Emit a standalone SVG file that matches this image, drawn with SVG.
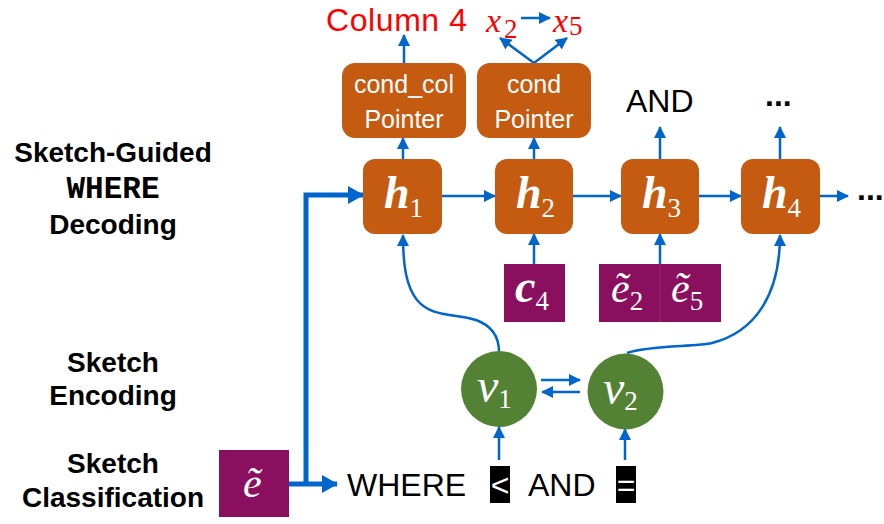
<svg xmlns="http://www.w3.org/2000/svg" width="884" height="524" viewBox="0 0 884 524">
<style>
.lbl{font-family:"Liberation Sans",Arial,sans-serif;font-weight:bold;font-size:28px;fill:#000;text-anchor:middle}
.mono{font-family:"Liberation Mono","Courier New",monospace;font-weight:bold;font-size:31px;fill:#000;text-anchor:middle}
.hb{fill:#C55A11}
.pb{fill:#8A0F5E}
.gc{fill:#548235}
.tk{fill:#000}
.ptr{font-family:"Liberation Sans",Arial,sans-serif;font-size:25px;fill:#fff;text-anchor:middle}
.hv{font-family:"Liberation Serif","Times New Roman",serif;font-style:italic;font-weight:bold;font-size:46px;fill:#fff}
.mv{font-family:"Liberation Serif","Times New Roman",serif;font-style:italic;font-size:48px;fill:#fff}
.ev{font-family:"Liberation Serif","Times New Roman",serif;font-style:italic;font-size:42px;fill:#fff}
.sub{font-family:"Liberation Serif","Times New Roman",serif;font-style:normal;font-weight:normal;font-size:27px}
.word{font-family:"Liberation Sans",Arial,sans-serif;font-size:32px;fill:#000}
.red{font-family:"Liberation Sans",Arial,sans-serif;font-size:32px;fill:#FF0000}
.rx{font-family:"Liberation Serif","Times New Roman",serif;font-style:italic;font-size:34px;fill:#FF0000}
.ln{fill:none;stroke:#0066CC;stroke-width:2.5;marker-end:url(#a)}
.thick{fill:none;stroke:#0066CC;stroke-width:5;marker-end:url(#b)}
</style>
<defs>
<marker id="a" markerUnits="userSpaceOnUse" markerWidth="12" markerHeight="12" refX="11" refY="6" orient="auto"><path d="M0,0 L12,6 L0,12 z" fill="#0066CC"/></marker>
<marker id="b" markerUnits="userSpaceOnUse" markerWidth="16" markerHeight="18" refX="15" refY="9" orient="auto"><path d="M0,0 L16,9 L0,18 z" fill="#0066CC"/></marker>
</defs>

<g id="labels">
<text class="lbl" x="113" y="162">Sketch-Guided</text>
<text class="mono" x="113" y="198">WHERE</text>
<text class="lbl" x="113" y="234">Decoding</text>
<text class="lbl" x="113" y="372">Sketch</text>
<text class="lbl" x="113" y="405">Encoding</text>
<text class="lbl" x="113" y="473">Sketch</text>
<text class="lbl" x="113" y="507">Classification</text>
</g>

<g id="connectors">
<path class="thick" d="M289,484 L337,484"/>
<path class="thick" d="M306,484 L306,195 L363,195"/>
<line class="ln" x1="442" y1="196" x2="495" y2="196"/>
<line class="ln" x1="573" y1="196" x2="621" y2="196"/>
<line class="ln" x1="699" y1="196" x2="741" y2="196"/>
<line class="ln" x1="820" y1="196" x2="848" y2="196"/>
<line class="ln" x1="403" y1="159" x2="403" y2="138"/>
<line class="ln" x1="534" y1="159" x2="534" y2="138"/>
<line class="ln" x1="404" y1="63" x2="404" y2="35"/>
<line class="ln" x1="534" y1="63" x2="500" y2="38"/>
<line class="ln" x1="534" y1="63" x2="567" y2="38"/>
<line class="ln" x1="521" y1="18" x2="550" y2="18"/>
<line class="ln" x1="660" y1="159" x2="660" y2="127"/>
<line class="ln" x1="780" y1="159" x2="780" y2="127"/>
<line class="ln" x1="534" y1="264" x2="534" y2="234"/>
<line class="ln" x1="660" y1="264" x2="660" y2="234"/>
<path class="ln" d="M499,352 C499,334 490,325 476,320 C455,313 432,318 417,300 C406,286 403,265 403,235"/>
<path class="ln" d="M627,353 C650,345 695,347 712,343 C755,332 780,295 780,235"/>
<line class="ln" x1="541" y1="380" x2="580" y2="380"/>
<line class="ln" x1="580" y1="392" x2="542" y2="392"/>
<line class="ln" x1="499" y1="460" x2="499" y2="427"/>
<line class="ln" x1="625" y1="460" x2="625" y2="429"/>
</g>

<g id="out-column">
<text class="red" x="326" y="31" textLength="141">Column 4</text>
</g>
<g id="out-x">
<text class="rx" x="486" y="32">x<tspan class="sub" dx="3" dy="6" font-size="25">2</tspan></text>
<text class="rx" x="553" y="32">x<tspan class="sub" dx="1" dy="3" font-size="25">5</tspan></text>
</g>
<g id="out-and"><text class="word" x="626" y="112">AND</text></g>
<g id="out-dots"><text class="word" x="765" y="106" font-weight="bold">...</text></g>
<g id="tail-dots"><text class="word" x="857" y="200" font-weight="bold">...</text></g>

<g id="ptr-col">
<rect x="342" y="63" width="124" height="75" rx="13" class="hb"/>
<text class="ptr" x="404" y="93">cond_col</text>
<text class="ptr" x="404" y="128">Pointer</text>
</g>
<g id="ptr-cond">
<rect x="477" y="63" width="114" height="75" rx="13" class="hb"/>
<text class="ptr" x="534" y="93">cond</text>
<text class="ptr" x="534" y="128">Pointer</text>
</g>

<g id="h1">
<rect x="363" y="159" width="79" height="75" rx="12" class="hb"/>
<text class="hv" x="384" y="208">h<tspan class="sub" dy="9">1</tspan></text>
</g>
<g id="h2">
<rect x="495" y="159" width="78" height="75" rx="12" class="hb"/>
<text class="hv" x="516" y="208">h<tspan class="sub" dy="9">2</tspan></text>
</g>
<g id="h3">
<rect x="621" y="159" width="78" height="75" rx="12" class="hb"/>
<text class="hv" x="642" y="208">h<tspan class="sub" dy="9">3</tspan></text>
</g>
<g id="h4">
<rect x="741" y="159" width="79" height="75" rx="12" class="hb"/>
<text class="hv" x="762" y="208">h<tspan class="sub" dy="9">4</tspan></text>
</g>

<g id="c4">
<rect x="504" y="264" width="61" height="58" class="pb"/>
<text class="hv" x="515" y="302">c<tspan class="sub" dy="8">4</tspan></text>
</g>
<g id="e25">
<rect x="599" y="264" width="122" height="58" class="pb"/>
<line x1="660" y1="264" x2="660" y2="322" stroke="#9A2A70" stroke-width="1"/>
<text class="ev" x="611" y="302">ẽ<tspan class="sub" dy="8">2</tspan></text>
<text class="ev" x="671" y="302">ẽ<tspan class="sub" dy="8">5</tspan></text>
</g>

<g id="v1">
<circle cx="499" cy="389" r="38" class="gc"/>
<text class="mv" x="477" y="402">v<tspan class="sub" dy="6" font-size="25">1</tspan></text>
</g>
<g id="v2">
<circle cx="625.5" cy="391.5" r="38" class="gc"/>
<text class="mv" x="603" y="404">v<tspan class="sub" dy="6" font-size="25">2</tspan></text>
</g>

<g id="e-sketch">
<rect x="219" y="450" width="70" height="67" class="pb"/>
<text class="ev" x="243" y="497">ẽ</text>
</g>

<g id="tokens">
<text class="word" x="347" y="496">WHERE</text>
<rect x="490" y="466" width="20" height="37" class="tk"/>
<text class="word" x="500" y="496" text-anchor="middle" style="fill:#fff">&lt;</text>
<text class="word" x="528" y="496">AND</text>
<rect x="616" y="466" width="20" height="37" class="tk"/>
<text class="word" x="626" y="496" text-anchor="middle" style="fill:#fff">=</text>
</g>
</svg>
